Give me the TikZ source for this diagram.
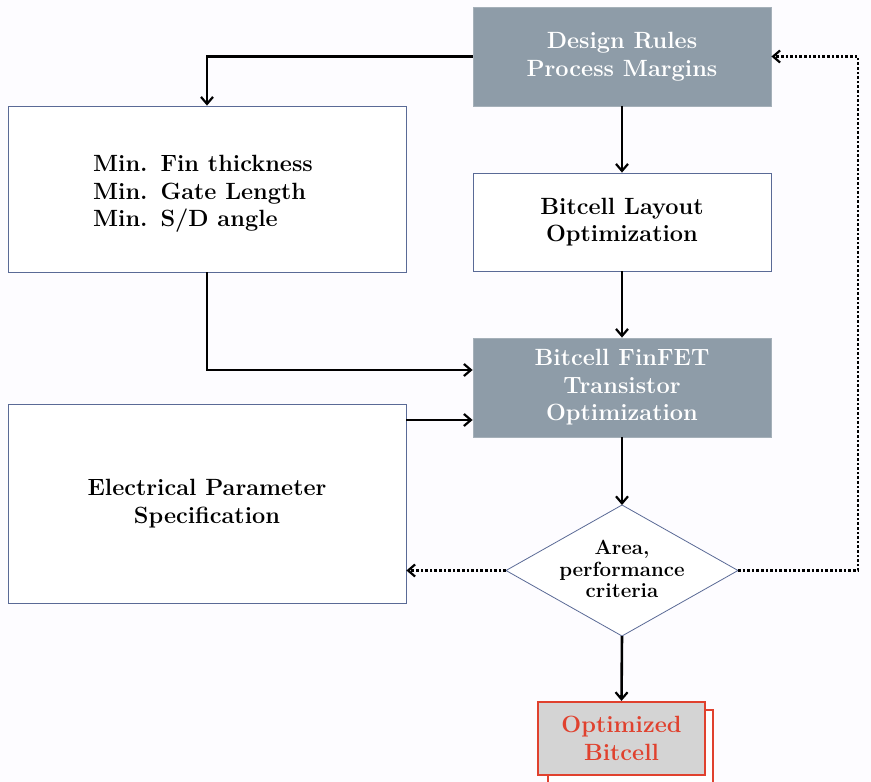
\documentclass[tikz,border=0pt]{standalone}
\usetikzlibrary{shapes.geometric,arrows.meta}
\definecolor{boxgray}{HTML}{8E9CA8}
\definecolor{edgeblue}{HTML}{5A6A96}
\definecolor{optred}{HTML}{E0412E}
\definecolor{optfill}{HTML}{D4D4D4}
\definecolor{bg}{HTML}{FDFCFF}
\begin{document}
\begin{tikzpicture}[x=1pt,y=-1pt,
  txt/.style={font=\fontsize{23.5}{27.5}\selectfont\bfseries, align=center},
  graybox/.style={txt, rectangle, fill=boxgray, draw=boxgray!80!white, text=white, line width=0.8pt},
  whitebox/.style={txt, rectangle, fill=white, draw=edgeblue, line width=0.8pt},
  arr/.style={line width=2.6pt, -{Straight Barb[length=7pt,width=12pt,line width=2.2pt]}},
  darr/.style={line width=2.6pt, dotted, -{Straight Barb[length=7pt,width=12pt,line width=2.2pt]}},
]
\fill[bg] (0,0) rectangle (871,782);
\useasboundingbox (0,0) rectangle (871,782);

\node[graybox, minimum width=298pt, minimum height=99pt] (dr) at (622,56.5) {Design Rules\\Process Margins};
\node[whitebox, minimum width=398pt, minimum height=166pt] (mn) at (207,189) {};
\node[txt, align=left] (mnt) at (203,194) {Min.\hspace{0.55em}Fin thickness\\Min.\hspace{0.55em}Gate Length\\Min.\hspace{0.55em}S/D angle};
\node[whitebox, minimum width=298pt, minimum height=98pt] (lo) at (622,222) {Bitcell Layout\\Optimization};
\node[graybox, minimum width=298pt, minimum height=99pt] (ft) at (622,387.5) {Bitcell FinFET\\Transistor\\Optimization};
\node[whitebox, minimum width=398pt, minimum height=199pt] (ep) at (207,503.5) {Electrical Parameter\\Specification};

\coordinate (dN) at (622,505);
\coordinate (dS) at (622,636);
\coordinate (dW) at (506,570.5);
\coordinate (dE) at (738,570.5);
\draw[edgeblue, fill=white, line width=0.8pt] (dN) -- (dE) -- (dS) -- (dW) -- cycle;
\node[font=\fontsize{20.5}{21.8}\selectfont\bfseries, align=center] (dm) at (622,569) {Area,\\performance\\criteria};

\draw[optred, fill=white, line width=2.2pt] (548,710) rectangle (713,788);
\node[txt, rectangle, fill=optfill, draw=optred, line width=2.2pt, text=optred, minimum width=167pt, minimum height=73pt] (ob) at (621.5,738.5) {Optimized\\Bitcell};

\coordinate (c1) at (207,56.5);
\coordinate (c2) at (207,370);
\coordinate (c3) at (858,570.5);
\coordinate (c4) at (858,56.5);

\draw[arr] (dr.west) -- (c1) -- (mn.north);
\draw[arr] (dr.south) -- (lo.north);
\draw[arr] (lo.south) -- (ft.north);
\draw[arr] (mn.south) -- (c2) -- (ft.west |- c2);
\draw[arr] (ep.east |- 0,420) -- (ft.west |- 0,420);
\draw[arr] (ft.south) -- (dN);
\draw[darr] (dW) -- (ep.east |- dW);
\draw[darr] (dE) -- (c3) -- (c4) -- (dr.east);
\draw[arr] (dS) -- (ob.north);
\end{tikzpicture}
\end{document}
